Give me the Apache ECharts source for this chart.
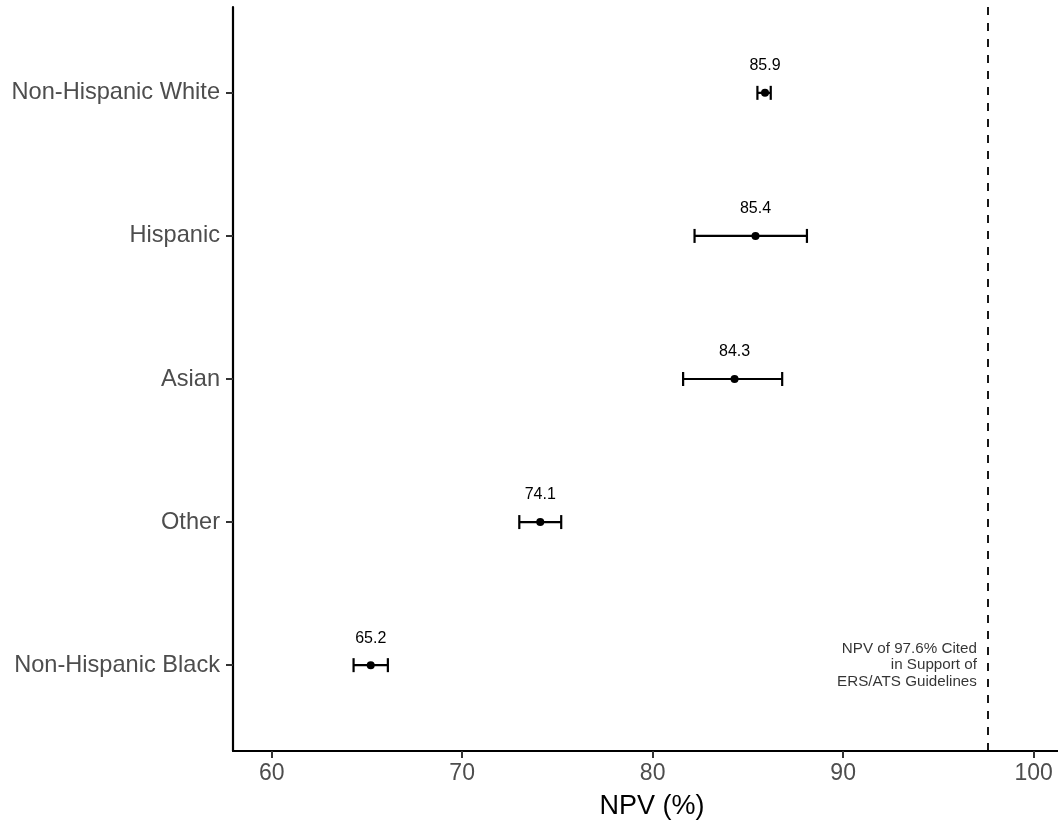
<!DOCTYPE html>
<html>
<head>
<meta charset="utf-8">
<script src="https://cdn.jsdelivr.net/npm/echarts@6/dist/echarts.min.js"></script>
<style>
html,body{margin:0;padding:0;background:#fff;}
#chart{width:1058px;height:827px;}
</style>
</head>
<body>
<div id="chart"></div>
<script>
const categories = ['Non-Hispanic Black', 'Other', 'Asian', 'Hispanic', 'Non-Hispanic White'];
const npv = [65.2, 74.1, 84.3, 85.4, 85.9];
const lower = [64.3, 73.0, 81.6, 82.2, 85.5];
const upper = [66.1, 75.2, 86.8, 88.1, 86.2];
const xTicks = [60, 70, 80, 90, 100];
const guideline = 97.6;
const guidelineText = 'NPV of 97.6% Cited\nin Support of\nERS/ATS Guidelines';
const xTitle = 'NPV (%)';

const FONT = '"Liberation Sans", Arial, Helvetica, sans-serif';
const chart = echarts.init(document.getElementById('chart'), null, {renderer: 'canvas'});

const ciData = categories.map((c, i) => [i, lower[i], upper[i]]);
const ptData = categories.map((c, i) => [npv[i], i]);

chart.setOption({
  animation: false,
  backgroundColor: '#ffffff',
  grid: {left: 233, right: 0, top: 7, bottom: 76, containLabel: false},
  xAxis: {
    type: 'value',
    min: 57.97,
    max: 101.28,
    name: xTitle,
    nameLocation: 'middle',
    nameGap: 42,
    nameTextStyle: {fontFamily: FONT, fontSize: 27, color: '#000', padding: [0, 0, 0, 13]},
    axisLine: {show: true, onZero: false, lineStyle: {color: '#000', width: 2.2}},
    axisTick: {show: true, length: 7, customValues: xTicks, lineStyle: {color: '#333', width: 2}},
    axisLabel: {show: true, customValues: xTicks, margin: 11, fontFamily: FONT, fontSize: 23, color: '#4D4D4D'},
    splitLine: {show: false}
  },
  yAxis: {
    type: 'value',
    min: -0.6,
    max: 4.6,
    axisLine: {show: true, onZero: false, lineStyle: {color: '#000', width: 2.2}},
    axisTick: {show: true, length: 7, customValues: [0, 1, 2, 3, 4], lineStyle: {color: '#333', width: 2}},
    axisLabel: {
      show: true, customValues: [0, 1, 2, 3, 4], margin: 13,
      fontFamily: FONT, fontSize: 23.6, color: '#4D4D4D',
      padding: [4, 0, 0, 0],
      formatter: v => categories[Math.round(v)] || ''
    },
    splitLine: {show: false}
  },
  series: [
    {
      type: 'custom',
      data: ciData,
      encode: {x: [1, 2], y: 0},
      renderItem: function (params, api) {
        const y = api.value(0), lo = api.value(1), hi = api.value(2);
        const p1 = api.coord([lo, y]);
        const p2 = api.coord([hi, y]);
        const h = 7;
        const st = {stroke: '#000', lineWidth: 2.2};
        return {
          type: 'group',
          children: [
            {type: 'line', shape: {x1: p1[0], y1: p1[1], x2: p2[0], y2: p2[1]}, style: st},
            {type: 'line', shape: {x1: p1[0], y1: p1[1] - h, x2: p1[0], y2: p1[1] + h}, style: st},
            {type: 'line', shape: {x1: p2[0], y1: p2[1] - h, x2: p2[0], y2: p2[1] + h}, style: st}
          ]
        };
      },
      z: 2
    },
    {
      type: 'scatter',
      data: ptData,
      symbol: 'circle',
      symbolSize: 8,
      itemStyle: {color: '#000', opacity: 1},
      label: {
        show: true, position: 'top', distance: 15,
        fontFamily: FONT, fontSize: 16, color: '#000',
        formatter: p => p.value[0].toFixed(1)
      },
      z: 3,
      markLine: {
        silent: true,
        symbol: ['none', 'none'],
        label: {show: false},
        lineStyle: {color: '#000', type: [8, 8], width: 1.8},
        data: [{xAxis: guideline}]
      }
    },
    {
      type: 'scatter',
      data: [[guideline, 0]],
      symbolSize: 0,
      itemStyle: {color: 'rgba(0,0,0,0)'},
      label: {
        show: true, position: 'left', distance: 11,
        align: 'right', verticalAlign: 'middle',
        fontFamily: FONT, fontSize: 15.2, lineHeight: 16.8, color: '#000',
        formatter: () => guidelineText
      },
      z: 3
    }
  ]
});
</script>
</body>
</html>
